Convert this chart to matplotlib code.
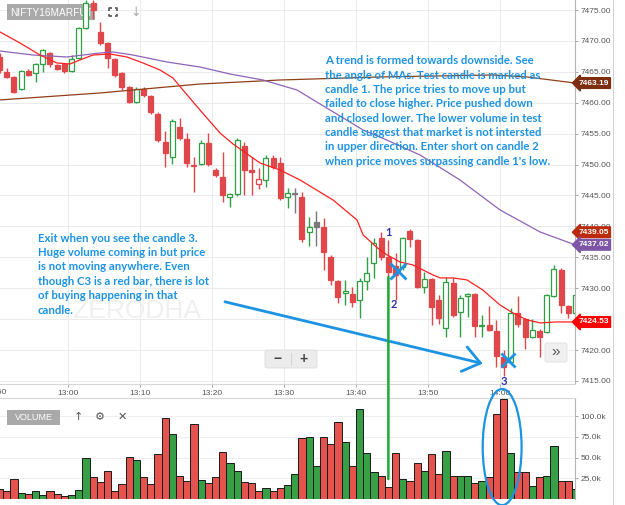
import numpy as np
import matplotlib
matplotlib.use('Agg')
import matplotlib.pyplot as plt
from matplotlib.patches import Rectangle, FancyBboxPatch, Ellipse, ConnectionPatch
from matplotlib.lines import Line2D

plt.rcParams['font.family'] = ['Liberation Sans', 'DejaVu Sans']

# ============================================================
# data, 1-minute bars from 12:50
# ============================================================
BAR_START = -10  # minutes from 13:00 of the first bar

opens = [7467.4, 7465.0, 7464.2, 7462.2, 7465.1, 7464.8, 7466.3, 7468.0, 7466.1, 7466.3,
         7465.1, 7467.2, 7472.1, 7476.1, 7471.4, 7469.7, 7467.1, 7464.8, 7462.5, 7460.1,
         7462.2, 7461.1, 7458.2, 7453.7, 7451.2, 7456.1, 7454.1, 7450.0, 7450.1, 7453.5,
         7449.1, 7448.0, 7444.8, 7445.2, 7453.0, 7449.1, 7446.9, 7447.5, 7451.1, 7450.3,
         7444.8, 7445.3, 7444.8, 7439.1, 7440.7, 7439.9, 7435.1, 7431.2, 7429.3, 7429.1,
         7428.1, 7431.2, 7434.1, 7438.1, 7435.1, 7433.6, 7433.4, 7439.3, 7437.8, 7430.2,
         7431.5, 7428.1, 7423.6, 7430.9, 7426.2, 7428.7, 7429.1, 7423.9, 7424.0, 7423.1,
         7418.9, 7418.1, 7426.0, 7425.0, 7422.1, 7423.1, 7422.9, 7428.7, 7433.0, 7427.1,
         7426.0]
highs = [7468.0, 7465.6, 7464.4, 7465.3, 7465.4, 7466.4, 7468.7, 7468.2, 7466.2, 7466.4,
         7467.7, 7472.3, 7476.6, 7476.6, 7473.0, 7469.9, 7467.3, 7465.0, 7462.7, 7462.5,
         7462.6, 7461.3, 7458.5, 7455.4, 7457.3, 7457.5, 7455.1, 7451.3, 7454.0, 7455.1,
         7449.5, 7452.0, 7445.4, 7454.3, 7453.7, 7451.3, 7449.5, 7451.5, 7451.6, 7451.3,
         7446.2, 7446.2, 7445.6, 7441.5, 7442.5, 7441.3, 7435.4, 7431.4, 7431.3, 7430.2,
         7431.7, 7435.1, 7438.1, 7439.1, 7437.8, 7435.7, 7438.3, 7439.5, 7438.0, 7432.6,
         7431.7, 7428.9, 7431.8, 7431.6, 7428.9, 7429.3, 7429.3, 7425.7, 7427.1, 7424.9,
         7420.0, 7426.8, 7428.7, 7425.2, 7425.0, 7423.4, 7429.1, 7433.8, 7433.2, 7427.3,
         7429.2]
lows = [7464.8, 7464.0, 7461.6, 7462.0, 7464.3, 7463.3, 7465.0, 7465.8, 7465.3, 7464.8,
        7464.9, 7467.0, 7472.0, 7473.5, 7469.3, 7465.6, 7464.2, 7462.1, 7459.9, 7459.9,
        7460.9, 7458.2, 7453.6, 7449.6, 7450.1, 7454.0, 7449.6, 7445.6, 7449.9, 7449.8,
        7448.0, 7444.0, 7443.2, 7444.9, 7445.1, 7445.1, 7446.1, 7446.4, 7449.3, 7444.3,
        7443.0, 7442.2, 7437.5, 7436.9, 7436.9, 7433.0, 7430.5, 7427.6, 7427.3, 7427.0,
        7425.1, 7429.7, 7431.7, 7434.6, 7428.4, 7428.1, 7432.9, 7436.6, 7430.0, 7429.2,
        7424.0, 7424.2, 7422.1, 7425.4, 7422.1, 7425.4, 7422.1, 7422.1, 7423.0, 7417.3,
        7415.8, 7417.8, 7423.8, 7420.2, 7421.9, 7418.9, 7422.7, 7428.5, 7426.0, 7425.2,
        7425.5]
closes = [7465.3, 7464.2, 7461.7, 7465.1, 7464.5, 7466.3, 7468.5, 7466.3, 7465.5, 7465.1,
          7467.1, 7472.1, 7476.1, 7475.0, 7469.7, 7467.2, 7464.5, 7462.5, 7460.1, 7462.2,
          7461.2, 7458.5, 7454.0, 7451.9, 7457.1, 7454.3, 7450.3, 7449.8, 7453.5, 7450.1,
          7448.3, 7445.1, 7445.2, 7454.0, 7449.1, 7448.8, 7447.7, 7451.1, 7449.6, 7444.6,
          7445.4, 7445.4, 7438.0, 7439.9, 7439.9, 7435.9, 7431.3, 7428.6, 7429.5, 7427.8,
          7431.2, 7432.5, 7437.3, 7435.1, 7432.6, 7432.1, 7438.1, 7438.0, 7430.2, 7431.5,
          7427.0, 7425.2, 7431.0, 7425.7, 7428.4, 7429.1, 7423.9, 7424.0, 7423.2, 7419.0,
          7417.3, 7426.0, 7424.2, 7422.1, 7423.2, 7422.1, 7428.9, 7433.1, 7427.3, 7426.0,
          7428.9]
volumes_k = [11.7, 9.6, 24, 6.8, 5.6, 9.2, 4.4, 10, 6, 3.2,
             4.4, 10.8, 49, 27, 20, 33.7, 9.6, 17.7, 50.6, 46.6,
             26, 17.7, 54, 97, 78, 28, 21.7, 90, 22.9, 18.9,
             26, 56.6, 43.4, 33.7, 21, 18.9, 9.2, 13.7, 9.6, 13.7,
             16.9, 29.7, 74, 75, 39.5, 75, 66, 93, 69, 40,
             108, 55, 32, 27.7, 14.9, 55, 23.7, 21.7, 43, 34,
             53.8, 29.7, 57.8, 27.7, 27.7, 27.7, 18.9, 22, 26.9, 103,
             121, 55, 32, 32, 16, 27, 28, 64, 22, 22,
             12]

# moving averages (minutes from 13:00, price)
ma_short_t = [-9.44, -6.67, -3.89, -1.53, 0.28, 1.67, 3.47, 5.83, 8.19, 10.42, 12.78, 14.58,
              15.97, 18.33, 21.11, 22.92, 26.67, 29.44, 32.22, 36.81, 40.14, 41.0, 43.0, 44.3,
              46.1, 47.9, 50.7, 51.7, 53.5, 55.4, 57.6, 60.0, 61.8, 63.75, 65.6, 67.9, 70.42]
ma_short = [7471.45, 7469.67, 7467.72, 7466.43, 7466.27, 7466.92, 7467.72, 7467.89, 7467.40,
            7466.43, 7465.30, 7464.00, 7462.06, 7458.83, 7455.11, 7453.33, 7450.26, 7449.13,
            7447.51, 7444.27, 7441.04, 7438.6, 7436.5, 7435.4, 7434.25, 7433.76, 7432.14,
            7431.66, 7431.66, 7431.34, 7429.72, 7427.29, 7426.0, 7424.87, 7424.38, 7424.54,
            7424.53]
ma_mid_t = [-9.44, -4.86, -0.14, 4.44, 6.25, 9.03, 13.75, 18.33, 22.5, 27.08, 31.81, 36.39,
            40.97, 43.33, 48.89, 54.44, 60.0, 65.56, 70.42]
ma_mid = [7468.37, 7467.72, 7467.40, 7468.05, 7468.21, 7467.72, 7466.59, 7465.78, 7464.65,
          7463.68, 7462.06, 7458.83, 7455.60, 7454.46, 7451.55, 7447.51, 7442.66, 7439.10,
          7437.02]
ma_long_t = [-9.44, 4.44, 18.33, 29.44, 43.33, 59.03, 63.75, 70.42]
ma_long = [7460.45, 7461.58, 7463.03, 7463.68, 7464.17, 7464.49, 7464.17, 7463.19]

tag_values = [7463.19, 7439.05, 7437.02, 7424.53]

time_ticks = [0, 10, 20, 30, 40, 50, 60]
time_labels = ['13:00', '13:10', '13:20', '13:30', '13:40', '13:50', '14:00']
price_ticks = [7415, 7420, 7425, 7430, 7435, 7440, 7445, 7450, 7455, 7460, 7465, 7470, 7475]
vol_ticks = [25, 50, 75, 100]

note_top = [
    "A trend is formed towards downside. See",
    "the angle of MAs. Test candle is marked as",
    "candle 1. The price tries to move up but",
    "failed to close higher. Price pushed down",
    "and closed lower. The lower volume in test",
    "candle suggest that market is not intersted",
    "in upper direction. Enter short on candle 2",
    "when price moves surpassing candle 1's low.",
]
note_left = [
    "Exit when you see the candle 3.",
    "Huge volume coming in but price",
    "is not moving anywhere. Even",
    "though C3 is a red bar, there is lot",
    "of buying happening in that",
    "candle.",
]

# annotation anchors (minute, price) / (minute, volume k)
ARROW_FROM = (21.8, 7427.8)
ARROW_TO = (57.6, 7417.8)
CROSS_1 = (45.8, 7432.8)
CROSS_2 = (61.1, 7418.4)
MARK_LABELS = [('1', 44.5, 7439.0), ('2', 45.3, 7427.4), ('3', 60.5, 7414.9)]
ENTRY_LINE_T = 44.5
ENTRY_LINE_PRICE = 7431.8
ENTRY_LINE_VOL = 24
EXIT_ELLIPSE = (60.3, 62.6)

# ============================================================
# style
# ============================================================
GREEN = '#2ea043'
RED = '#e0474a'
GRAY = '#7a7a7a'
VOL_GREEN = '#37a046'
VOL_RED = '#e5534f'
BLUE = '#1c93e3'
NAVY = '#2b33b0'
TAG_COLORS = ['#7e2e10', '#bb2a0b', '#7d56a6', '#ff0000']
TICK_COLOR = '#555555'

W, H = 625, 505


def figxy(px, py):
    return px / W, 1 - py / H


def fig_segment(fig, pts, **kw):
    xs = [p[0] / W for p in pts]
    ys = [1 - p[1] / H for p in pts]
    fig.add_artist(Line2D(xs, ys, **kw))


fig = plt.figure(figsize=(W / 100, H / 100), dpi=100)
fig.patch.set_facecolor('white')
ax = fig.add_axes([0, 1 - 384 / H, 575 / W, 384 / H])
axv = fig.add_axes([0, 1 - 499 / H, 575 / W, 101 / H])

o, h, l, c = (np.array(a) for a in (opens, highs, lows, closes))
t = np.arange(len(o)) + BAR_START + 0.5
prev = np.r_[o[0], c[:-1]]
col = np.where(c > prev, GREEN, np.where(c < prev, RED, GRAY))
face = np.where(c > o, 'white', col)
body_lo = np.minimum(o, c)
body_h = np.maximum(np.abs(c - o), 0.15)

# candles
ax.vlines(t, l, h, colors=col, lw=1.0, zorder=2)
ax.bar(t, body_h, 0.7, body_lo, color=face, edgecolor=col, lw=0.9, zorder=3)

# moving averages
ax.plot(ma_long_t, ma_long, color='#8f3f17', lw=0.9, zorder=4)
ax.plot(ma_mid_t, ma_mid, color='#8e63b8', lw=0.9, zorder=4)
ax.plot(ma_short_t, ma_short, color='#ff2020', lw=0.9, zorder=4)

# volume
vcol = np.where(c >= prev, VOL_GREEN, VOL_RED)
axv.bar(t, volumes_k, 1.0, color=vcol, edgecolor='#1a1a1a', lw=0.7, zorder=3)

# axes cosmetics
for a in (ax, axv):
    a.set_xlim(-9.44, 70.42)
    a.set_facecolor('none')
    a.yaxis.tick_right()
    a.spines['left'].set_visible(False)
    a.spines['right'].set_color('#b4b4b4')
    a.set_axisbelow(True)
    a.tick_params(colors='#999999', labelcolor=TICK_COLOR, labelsize=6, length=2.5,
                  width=0.6, pad=1.5)

ax.set_ylim(7414.5, 7476.62)
ax.set_yticks(price_ticks, [f'{v:.2f}' for v in price_ticks])
ax.set_xticks(time_ticks, time_labels)
ax.spines['top'].set_visible(False)
ax.spines['bottom'].set_color('#d6d6d6')
ax.grid(True, color='#ebebeb', lw=0.7)
ax.text(-10, -0.012, '12:50', transform=ax.get_xaxis_transform(), ha='center', va='top',
        fontsize=6, color=TICK_COLOR, clip_on=False)

axv.set_ylim(0, 121.7)
axv.set_xticks([])
axv.set_yticks(vol_ticks, [f'{v:.1f}k' for v in vol_ticks])
axv.spines['bottom'].set_visible(False)
axv.spines['top'].set_color('#d6d6d6')
axv.grid(True, axis='y', color='#efefef', lw=0.7)

# value tags on the price scale
for v, tc in zip(tag_values, TAG_COLORS):
    ax.text(1.032, v, f'{v:.2f}', transform=ax.get_yaxis_transform(), ha='center',
            va='center', fontsize=6, fontweight='bold', color='white', zorder=10,
            clip_on=False, bbox=dict(boxstyle='larrow,pad=0.22', fc=tc, ec=tc))

# chart chrome (symbol label, watermark, buttons)
ax.add_patch(Rectangle(figxy(7, 20), 88 / W, 16 / H, transform=fig.transFigure,
                       fc='#a9a9a9', ec='none', zorder=1))
ax.text(*figxy(51, 12.5), 'NIFTY16MARFUT', transform=fig.transFigure, ha='center',
        va='center', fontsize=7.3, color='white', zorder=1.1)
ax.text(*figxy(72, 311), 'ZERODHA', transform=fig.transFigure, ha='left', va='center',
        fontsize=19, color='#f0f0f0', zorder=0.6)

# full-screen icon (four corner brackets; no installed font has the glyph)
icon_kw = dict(color='#555555', lw=1.2, solid_capstyle='butt')
for sx in (-1, 1):
    for sy in (-1, 1):
        cx, cy = 113 + 4 * sx, 12 + 4 * sy
        fig_segment(fig, [(cx - 2.5 * sx, cy), (cx, cy), (cx, cy - 2.5 * sy)], **icon_kw)
fig.text(*figxy(136, 12), '↓', ha='center', va='center', fontsize=9, color='#aaaaaa',
         family='DejaVu Sans')

fig.add_artist(FancyBboxPatch(figxy(265, 368), 52 / W, 18 / H, transform=fig.transFigure,
                              boxstyle='round,pad=0,rounding_size=0.004', fc='#ececec',
                              ec='#dcdcdc', lw=0.6, zorder=6))
fig_segment(fig, [(291, 353), (291, 365)], color='#cfcfcf', lw=0.6, zorder=7)
fig.text(*figxy(278, 359), '−', ha='center', va='center', fontsize=10, color='#444444',
         fontweight='bold', zorder=7)
fig.text(*figxy(304, 359), '+', ha='center', va='center', fontsize=10, color='#444444',
         fontweight='bold', zorder=7)
fig.add_artist(FancyBboxPatch(figxy(545, 362), 22 / W, 19 / H, transform=fig.transFigure,
                              boxstyle='round,pad=0,rounding_size=0.004', fc='#f0f0f0',
                              ec='#dddddd', lw=0.6, zorder=6))
fig.text(*figxy(556, 352), '»', ha='center', va='center', fontsize=11, color='#555555',
         zorder=7)

axv.add_patch(Rectangle(figxy(7, 425), 53 / W, 15 / H, transform=fig.transFigure,
                        fc='#a9a9a9', ec='none', zorder=5, clip_on=False))
fig.text(*figxy(33.5, 417.5), 'VOLUME', ha='center', va='center', fontsize=6.5,
         color='white', zorder=6)
for x, s in zip([78, 100, 122], ['↑', '⚙', '✕']):
    fig.text(*figxy(x, 417), s, ha='center', va='center', fontsize=8, color='#555555',
             family='DejaVu Sans', zorder=6)

fig_segment(fig, [(613, 0), (613, H)], color='#d3d3d3', lw=0.8)

# hand-drawn style annotations
for i, line in enumerate(note_top):
    ax.text(*figxy(325, 61 + 14.3 * i), line, transform=fig.transFigure, ha='left',
            va='center', fontsize=8.2, fontweight='bold', color=BLUE, family='Lato', zorder=8)
for i, line in enumerate(note_left):
    ax.text(*figxy(38, 238 + 14.4 * i), line, transform=fig.transFigure, ha='left',
            va='center', fontsize=8.2, fontweight='bold', color=BLUE, family='Lato', zorder=8)

ax.annotate('', xy=ARROW_TO, xytext=ARROW_FROM, zorder=7,
            arrowprops=dict(arrowstyle='->,head_length=0.6,head_width=0.45', color=BLUE,
                            lw=2.0, mutation_scale=20, shrinkA=0, shrinkB=0))
for (cx, cy), ms in zip([CROSS_1, CROSS_2], [11, 10]):
    ax.plot([cx], [cy], marker='x', ms=ms, mew=2, color=BLUE, zorder=7)
for s, x, y in MARK_LABELS:
    ax.text(x, y, s, ha='center', va='center', fontsize=8, fontweight='bold', color=NAVY,
            family='Lato', zorder=8, clip_on=False)

fig.add_artist(ConnectionPatch(xyA=(ENTRY_LINE_T, ENTRY_LINE_PRICE), coordsA='data', axesA=ax,
                               xyB=(ENTRY_LINE_T, ENTRY_LINE_VOL), coordsB='data', axesB=axv,
                               color='#1faa35', lw=1.8, zorder=9))
axv.add_patch(Ellipse(EXIT_ELLIPSE, 5.4, 140, fill=False, ec=BLUE, lw=1.6, clip_on=False,
                      zorder=8))

fig.savefig('out.png', dpi=100, facecolor='white')
